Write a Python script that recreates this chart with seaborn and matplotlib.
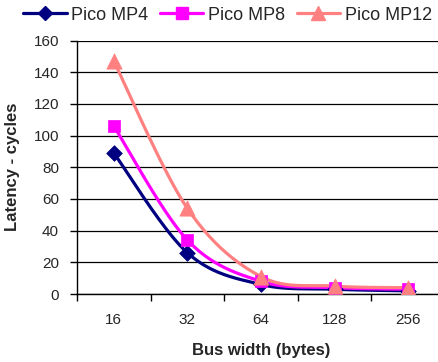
import numpy as np
import pandas as pd
import matplotlib
matplotlib.use("Agg")
import matplotlib.pyplot as plt
from matplotlib.ticker import FixedLocator, NullFormatter
import seaborn as sns

# Bus widths (bytes) and latency per configuration
bus_widths = ["16", "32", "64", "128", "256"]
pico_mp4 = [89, 26, 6, 3, 2]
pico_mp8 = [106, 34, 8, 4, 3]
pico_mp12 = [147, 54, 11, 5, 4]

series_names = ["Pico MP4", "Pico MP8", "Pico MP12"]
series_values = [pico_mp4, pico_mp8, pico_mp12]
series_colors = ["#000080", "#FF00FF", "#FF8080"]
series_markers = ["D", "s", "^"]
series_msize = [8, 9, 11]


def smooth_curve(xs, ys, steps=40):
    """Bezier smoothing through every point (spreadsheet-style smoothed line)."""
    pts = np.column_stack([xs, ys]).astype(float)
    n = len(pts)
    out = []
    for i in range(n - 1):
        p0 = pts[max(i - 1, 0)]
        p1 = pts[i]
        p2 = pts[i + 1]
        p3 = pts[min(i + 2, n - 1)]
        c1 = p1 + (p2 - p0) / 6.0
        c2 = p2 - (p3 - p1) / 6.0
        t = np.linspace(0, 1, steps, endpoint=(i == n - 2))[:, None]
        seg = ((1 - t) ** 3) * p1 + 3 * ((1 - t) ** 2) * t * c1 \
            + 3 * (1 - t) * t ** 2 * c2 + t ** 3 * p2
        out.append(seg)
    return np.vstack(out)


sns.set_style("white")
plt.rcParams["font.family"] = ["Liberation Sans", "DejaVu Sans"]

fig = plt.figure(figsize=(4.38, 3.62), dpi=100)
ax = fig.add_axes([77 / 438, 68 / 362, 368 / 438, 253.5 / 362])

xpos = np.arange(len(bus_widths))
handles = []
for name, vals, col, mk, ms in zip(series_names, series_values,
                                   series_colors, series_markers, series_msize):
    curve = smooth_curve(xpos, vals)
    cdf = pd.DataFrame({"x": curve[:, 0], "y": curve[:, 1]})
    sns.lineplot(data=cdf, x="x", y="y", ax=ax, color=col, linewidth=2.3,
                 sort=False, estimator=None, legend=False)
    pdf = pd.DataFrame({"x": xpos, "y": vals})
    sns.scatterplot(data=pdf, x="x", y="y", ax=ax, color=col, marker=mk,
                    s=ms ** 2, edgecolor=col, linewidth=0.5, legend=False,
                    zorder=3)
    handles.append(plt.Line2D([], [], color=col, linewidth=2.3, marker=mk,
                              markersize=ms * 0.95, markeredgecolor=col,
                              label=name))

ax.set_xlim(-0.5, len(bus_widths) - 0.5)
ax.set_ylim(0, 160)

ax.set_yticks(np.arange(0, 161, 20))
ax.yaxis.grid(True, color="black", linewidth=0.9)
ax.set_axisbelow(True)

ax.set_xticks(xpos)
ax.set_xticklabels(bus_widths)
ax.xaxis.set_minor_locator(FixedLocator(np.arange(-0.5, len(bus_widths), 1.0)))
ax.xaxis.set_minor_formatter(NullFormatter())
ax.tick_params(axis="x", which="major", length=0, pad=14, labelsize=11)
ax.tick_params(axis="x", which="minor", length=5, width=1, color="black",
               direction="out", bottom=True)
ax.tick_params(axis="y", which="major", length=5, width=1, color="black",
               direction="out", left=True, pad=8, labelsize=11)

for side in ["top", "right"]:
    ax.spines[side].set_visible(False)
for side in ["left", "bottom"]:
    ax.spines[side].set_color("black")
    ax.spines[side].set_linewidth(1)

ax.set_xlabel("Bus width (bytes)", fontsize=12, fontweight="bold", labelpad=11.5)
ax.set_ylabel("Latency - cycles", fontsize=12, fontweight="bold", labelpad=10)

fig.legend(handles=handles, loc="center", bbox_to_anchor=(227.5 / 438, 1 - 15 / 362),
           ncol=3, frameon=False, fontsize=13, handlelength=2.4,
           handletextpad=0.25, columnspacing=0.65, borderpad=0, borderaxespad=0)

fig.savefig("out.png", dpi=100)
